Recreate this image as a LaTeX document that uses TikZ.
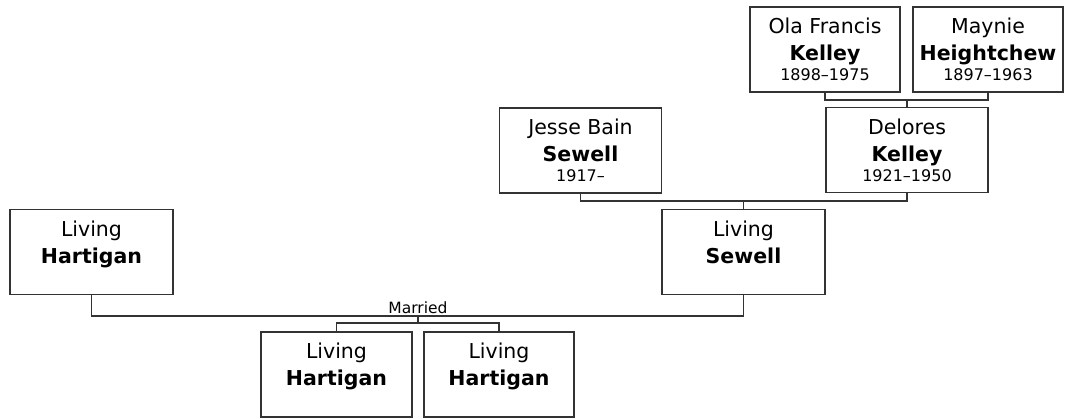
\documentclass[tikz,border=0pt]{standalone}
\usepackage{fontspec}
\setmainfont{DejaVu Sans}
\usepackage{tikz}
\usetikzlibrary{positioning, calc}

\newcommand{\datefont}{\fontsize{16}{20}\selectfont}

\begin{document}
\begin{tikzpicture}[
    x=1pt, y=1pt,
    every node/.style={font=\fontsize{20.5}{27}\selectfont},
    person/.style={rectangle, draw=black!80, line width=1.2pt, minimum width=163pt, minimum height=85pt, inner sep=0pt, align=center, fill=white},
    narrow/.style={person, minimum width=150pt},
    link/.style={draw=black!80, line width=1.2pt},
    lbl/.style={font=\fontsize{15.5}{18}\selectfont, inner sep=2pt}
]
\useasboundingbox (0,0) rectangle (1070,418);

% ── Grandparents (Kelley side) ──
\node[narrow] (ola)    at (825, 368.5) {Ola Francis\\\textbf{Kelley}\\[-7pt]{\datefont 1898–1975}};
\node[narrow] (maynie) at (988, 368.5) {Maynie\\\textbf{Heightchew}\\[-7pt]{\datefont 1897–1963}};

% ── Parents ──
\node[person, minimum width=162pt] (jesse)   at (580.5, 267.5) {Jesse Bain\\\textbf{Sewell}\\[-7pt]{\datefont 1917–}};
\node[person, minimum width=162pt] (delores) at (907, 268) {Delores\\\textbf{Kelley}\\[-7pt]{\datefont 1921–1950}};

% ── Couple ──
\node[person] (hartigan) at (91.5, 166)  {Living\\\textbf{Hartigan}\\[-7pt]\mbox{}};
\node[person] (sewell)   at (743.5, 166) {Living\\\textbf{Sewell}\\[-7pt]\mbox{}};

% ── Children ──
\node[narrow, minimum width=151pt] (kid1) at (336.5, 43.5) {Living\\\textbf{Hartigan}\\[-7pt]\mbox{}};
\node[narrow] (kid2) at (499, 43.5) {Living\\\textbf{Hartigan}\\[-7pt]\mbox{}};

% ── Connectors ──
\coordinate (kelleybar)  at (907, 318);
\coordinate (sewellbar)  at (743.5, 217);
\coordinate (marriedbar) at (418, 102);
\coordinate (kidsbar)    at (418, 95);

\draw[link] (ola.south) |- (kelleybar) -| (maynie.south);
\draw[link] (kelleybar) -- (delores.north);

\draw[link] (jesse.south) |- (sewellbar) -| (delores.south);
\draw[link] (sewellbar) -- (sewell.north);

\draw[link] (hartigan.south) |- (marriedbar) -| (sewell.south);
\node[lbl, above] (married) at (marriedbar) {Married};

\draw[link] (marriedbar) -- (kidsbar);
\draw[link] (kid1.north) |- (kidsbar) -| (kid2.north);

\end{tikzpicture}
\end{document}
